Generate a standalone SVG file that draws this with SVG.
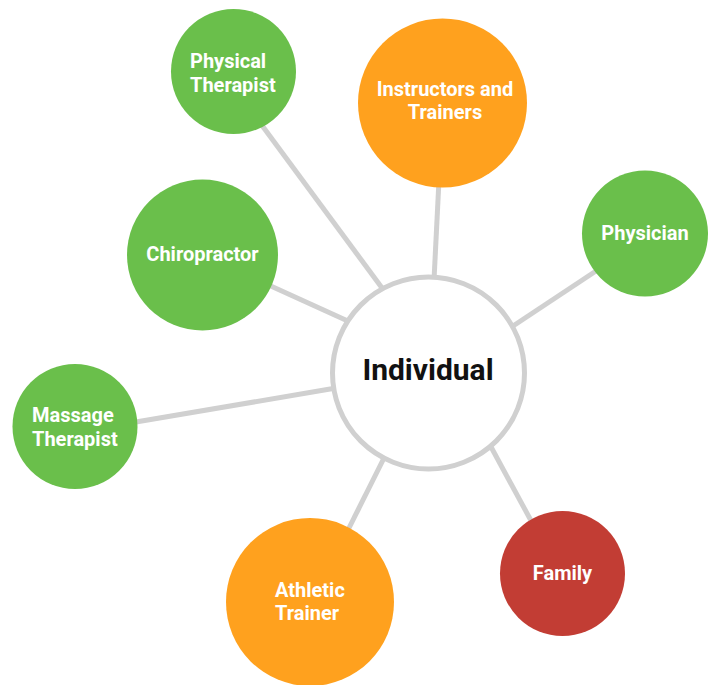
<svg xmlns="http://www.w3.org/2000/svg" width="715" height="685" viewBox="0 0 715 685">
<style>
.edge{stroke:#d0d0d0;stroke-width:5;fill:none}
.green{fill:#6abf4b}
.orange{fill:#ffa11e}
.red{fill:#c23d34}
.lbl{font-family:Roboto,"Liberation Sans",sans-serif;font-weight:bold;font-size:20px;fill:#ffffff;text-anchor:middle}
.left{text-anchor:start}
.main{font-family:Roboto,"Liberation Sans",sans-serif;font-weight:bold;font-size:30px;fill:#111111;text-anchor:middle}
</style>
<rect width="715" height="685" fill="#ffffff"/>
<g id="connectors">
<line class="edge" x1="258" y1="120" x2="385" y2="292"/>
<line class="edge" x1="439" y1="180" x2="434" y2="280"/>
<line class="edge" x1="605" y1="265" x2="510" y2="328"/>
<line class="edge" x1="262" y1="282" x2="350" y2="322"/>
<line class="edge" x1="130" y1="423" x2="336" y2="388"/>
<line class="edge" x1="345" y1="536" x2="385" y2="456"/>
<line class="edge" x1="535" y1="528" x2="490" y2="445"/>
</g>
<g id="individual">
<circle cx="428.5" cy="373" r="96" fill="#ffffff" stroke="#d0d0d0" stroke-width="5"/>
<text class="main" x="428" y="380">Individual</text>
</g>
<g id="physical-therapist">
<circle class="green" cx="233.5" cy="71.5" r="62.5"/>
<text class="lbl left" x="190" y="68">Physical</text>
<text class="lbl left" x="190" y="92">Therapist</text>
</g>
<g id="instructors-and-trainers">
<circle class="orange" cx="442.5" cy="103" r="84.5"/>
<text class="lbl" x="445" y="96">Instructors and</text>
<text class="lbl" x="445" y="119">Trainers</text>
</g>
<g id="physician">
<circle class="green" cx="645" cy="233.5" r="63"/>
<text class="lbl" x="645" y="240">Physician</text>
</g>
<g id="chiropractor">
<circle class="green" cx="202.5" cy="255" r="75.5"/>
<text class="lbl" x="202.5" y="261">Chiropractor</text>
</g>
<g id="massage-therapist">
<circle class="green" cx="75" cy="426.5" r="62.5"/>
<text class="lbl left" x="32" y="422">Massage</text>
<text class="lbl left" x="32" y="446">Therapist</text>
</g>
<g id="athletic-trainer">
<circle class="orange" cx="310" cy="602" r="84"/>
<text class="lbl left" x="275" y="597">Athletic</text>
<text class="lbl left" x="275" y="620">Trainer</text>
</g>
<g id="family">
<circle class="red" cx="562.5" cy="573.5" r="62.5"/>
<text class="lbl" x="562.5" y="580">Family</text>
</g>
</svg>
